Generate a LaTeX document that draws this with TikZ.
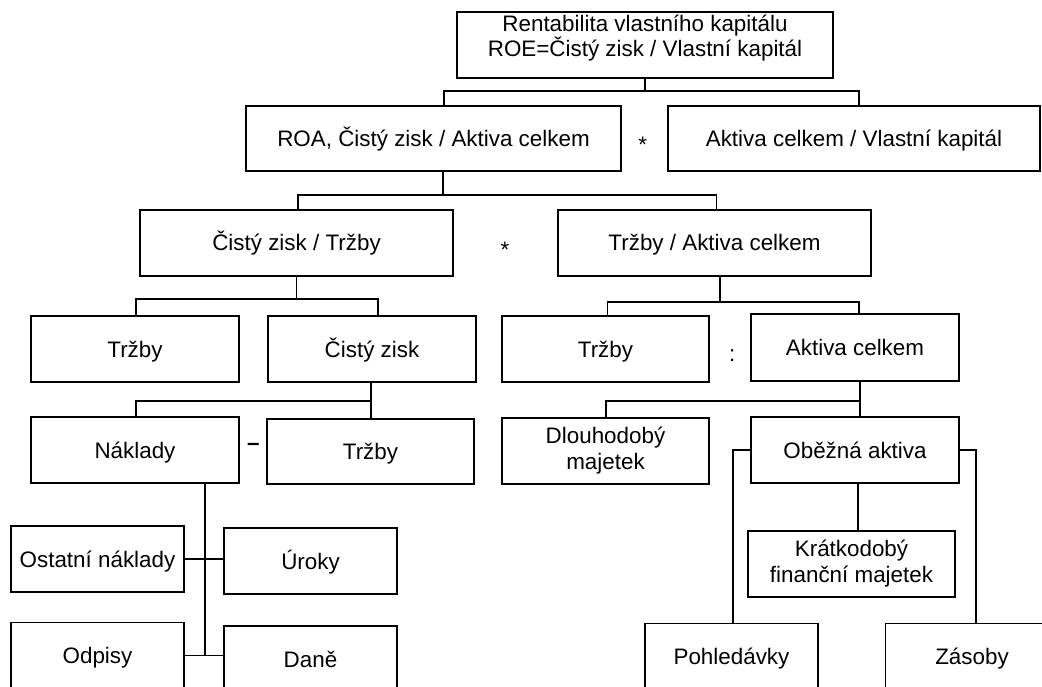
\documentclass[tikz,border=0pt]{standalone}
\usepackage{fontspec}
\setmainfont{Liberation Sans}
\begin{document}
\begin{tikzpicture}[x=1pt,y=-1pt,
  box/.style={draw, line width=1.8pt, inner sep=0pt, align=center, font=\fontsize{22.4}{26}\selectfont},
  one/.style={text height=20.3pt, text depth=4.3pt},
  sz/.style 2 args={minimum width=#1pt, minimum height=#2pt},
  txt/.style={inner sep=0pt, align=center, font=\fontsize{22.4}{25}\selectfont},
  conn/.style={line width=1.8pt},
  op/.style={inner sep=0pt, anchor=base, font=\fontsize{22.4}{26}\selectfont}]
\useasboundingbox (0,0) rectangle (1042,687);

% boxes
\node[box, sz={376}{66}] (roe) at (645,45) {};
\node[txt] (roetx) at (645,38.5) {Rentabilita vlastního kapitálu\\ROE=Čistý zisk / Vlastní kapitál};
\node[box, one, sz={375}{65}] (roa) at (433.5,138.5) {ROA, Čistý zisk / Aktiva celkem};
\node[box, one, sz={372}{65}] (akvk) at (854,138.5) {Aktiva celkem / Vlastní kapitál};
\node[box, one, sz={313}{66}] (czt) at (296.5,243) {Čistý zisk / Tržby};
\node[box, one, sz={313}{66}] (tac) at (714.5,243) {Tržby / Aktiva celkem};
\node[box, one, sz={208}{66}] (trz1) at (135,349) {Tržby};
\node[box, one, sz={208}{66}] (cz) at (372,349) {Čistý zisk};
\node[box, one, sz={207}{66}] (trz2) at (605.5,349) {Tržby};
\node[box, one, sz={208}{67}] (ac) at (855,347.5) {Aktiva celkem};
\node[box, one, sz={208}{66}] (nak) at (135,450) {Náklady};
\node[box, one, sz={207}{65}] (trz3) at (370.5,451.5) {Tržby};
\node[box, sz={207}{66}] (dlouh) at (605.5,451) {Dlouhodobý\\majetek};
\node[box, one, sz={208}{66}] (obez) at (855,450) {Oběžná aktiva};
\node[box, one, sz={173}{66}] (ost) at (97.5,559) {Ostatní náklady};
\node[box, one, sz={173}{66}] (uroky) at (310.5,561) {Úroky};
\node[box, sz={207}{66}] (krat) at (851.5,564) {Krátkodobý\\finanční majetek};
\node[box, one, sz={173}{66}] (odpisy) at (97.5,655.5) {Odpisy};
\node[box, one, sz={173}{66}] (dane) at (310.5,659) {Daně};
\node[box, one, sz={173}{66}] (pohl) at (731.5,656.5) {Pohledávky};
\node[box, one, sz={173}{66}] (zasoby) at (972,656.5) {Zásoby};

% operators
\node[op] (s1) at (642.7,153) {*};
\node[op] (s2) at (505,257.5) {*};
\node[op] (mn) at (253.3,450.5) {\textbf{–}};
\node[op] (cl) at (732.3,361) {:};

% junction levels
\coordinate (h1) at (0,90.7);
\coordinate (h2) at (0,194.7);
\coordinate (h3) at (0,299);
\coordinate (h4) at (0,301.7);
\coordinate (h5) at (0,401.3);

% connectors
\draw[conn] (roe.south) -- (roe.south |- h1);
\draw[conn] ([xshift=10.5pt]roa.north) -- ([xshift=10.5pt]roa.north |- h1) -- ([xshift=5pt]akvk.north |- h1) -- ([xshift=5pt]akvk.north);

\draw[conn] ([xshift=9.5pt]roa.south) -- ([xshift=9.5pt]roa.south |- h2);
\draw[conn] ([xshift=1.5pt]czt.north) -- ([xshift=1.5pt]czt.north |- h2) -- ([xshift=2pt]tac.north |- h2) -- ([xshift=2pt]tac.north);

\draw[conn] (czt.south) -- (czt.south |- h3);
\draw[conn] ([xshift=1pt]trz1.north) -- ([xshift=1pt]trz1.north |- h3) -- ([xshift=6pt]cz.north |- h3) -- ([xshift=6pt]cz.north);

\draw[conn] ([xshift=5.5pt]tac.south) -- ([xshift=5.5pt]tac.south |- h4);
\draw[conn] ([xshift=2pt]trz2.north) -- ([xshift=2pt]trz2.north |- h4) -- ([xshift=4.3pt]ac.north |- h4) -- ([xshift=4.3pt]ac.north);

\draw[conn] ([xshift=-1pt]cz.south) -- ([xshift=-1pt]cz.south |- trz3.north);
\draw[conn] ([xshift=1pt]nak.north) -- ([xshift=1pt]nak.north |- h5) -- ([xshift=-1pt]cz.south |- h5);

\draw[conn] ([xshift=4.7pt]ac.south) -- ([xshift=4.7pt]ac.south |- obez.north);
\draw[conn] ([xshift=0.5pt]dlouh.north) -- ([xshift=0.5pt]dlouh.north |- h5) -- ([xshift=4.7pt]ac.south |- h5);

\draw[conn] ([xshift=69.7pt]nak.south) -- ([xshift=69.7pt]nak.south |- odpisy.east);
\draw[conn] (ost.east) -- (uroky.west |- ost.east);
\draw[conn] (odpisy.east) -- (dane.west |- odpisy.east);

\draw[conn] ([xshift=3.3pt]obez.south) -- ([xshift=3.3pt]obez.south |- krat.north);
\draw[conn] (obez.west) -| ([xshift=1.2pt]pohl.north);
\draw[conn] (obez.east) -| ([xshift=3.7pt]zasoby.north);
\end{tikzpicture}
\end{document}
